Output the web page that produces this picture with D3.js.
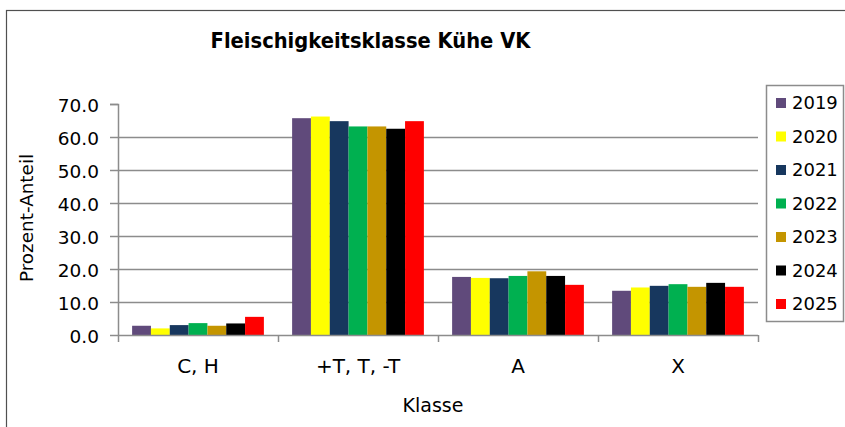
<!DOCTYPE html>
<html>
<head>
<meta charset="utf-8">
<script src="https://cdn.jsdelivr.net/npm/d3@7"></script>
<style>
  body { margin: 0; background: #fff; }
  text { font-family: "DejaVu Sans", sans-serif; fill: #000; }
</style>
</head>
<body>
<div id="chart"></div>
<script>
// categories, years and values
var categories = ["C, H", "+T, T, -T", "A", "X"];
var years = ["2019", "2020", "2021", "2022", "2023", "2024", "2025"];
var colors = ["#604a7b", "#ffff00", "#17375e", "#00b050", "#c49500", "#000000", "#ff0000"];
var v2019 = [2.8, 65.7, 17.6, 13.4];
var v2020 = [2.0, 66.2, 17.3, 14.4];
var v2021 = [3.0, 64.8, 17.2, 14.9];
var v2022 = [3.6, 63.2, 17.9, 15.4];
var v2023 = [2.8, 63.2, 19.3, 14.6];
var v2024 = [3.5, 62.5, 17.9, 15.8];
var v2025 = [5.5, 64.8, 15.2, 14.6];
var yTicks = [0, 10, 20, 30, 40, 50, 60, 70];

var series = [v2019, v2020, v2021, v2022, v2023, v2024, v2025];

var W = 845, H = 427;
var margin = {top: 104, left: 118, right: 87, bottom: 92};
var width = W - margin.left - margin.right,   // 640
    height = H - margin.top - margin.bottom;  // 231

var svg = d3.select("#chart").append("svg")
    .attr("width", W).attr("height", H);

// outer frame
svg.append("rect")
    .attr("x", 6.5).attr("y", 10.5)
    .attr("width", W + 10).attr("height", H + 10)
    .attr("fill", "none").attr("stroke", "#505050").attr("stroke-width", 1.2);

var g = svg.append("g").attr("transform", "translate(" + margin.left + "," + margin.top + ")");

var xScale = d3.scaleBand().domain(categories).range([0, width]);
// 7 bars + 150% gap
var xInner = d3.scaleBand().domain(years)
    .range([0, xScale.bandwidth()])
    .paddingInner(0).paddingOuter(0.75);
var yScale = d3.scaleLinear().domain([0, 70]).range([height, 0]);

// gridlines (no line at the top)
g.append("g").selectAll("line")
    .data(yTicks.filter(function(d){ return d > 0 && d < 70; }))
    .enter().append("line")
    .attr("x1", 0).attr("x2", width)
    .attr("y1", function(d){ return Math.round(yScale(d)) + 0.5; })
    .attr("y2", function(d){ return Math.round(yScale(d)) + 0.5; })
    .attr("stroke", "#8c8c8c").attr("stroke-width", 1.5);

// bars
var groups = g.selectAll(".grp")
    .data(categories)
    .enter().append("g")
    .attr("transform", function(d){ return "translate(" + xScale(d) + ",0)"; });

groups.selectAll("rect")
    .data(function(d, ci){ return years.map(function(y, yi){ return {year: y, yi: yi, value: series[yi][ci]}; }); })
    .enter().append("rect")
    .attr("x", function(d){ return xInner(d.year); })
    .attr("width", xInner.bandwidth())
    .attr("y", function(d){ return yScale(d.value); })
    .attr("height", function(d){ return height - yScale(d.value); })
    .attr("fill", function(d){ return colors[d.yi]; });

// y axis
var yAxis = d3.axisLeft(yScale).tickValues(yTicks).tickFormat(d3.format(".1f")).tickSize(8).tickPadding(11);
var ya = g.append("g").attr("class", "y axis").call(yAxis);
ya.select(".domain").attr("stroke", "#8c8c8c").attr("stroke-width", 1.5).attr("d", "M-8,0.5H0.5V" + height);
ya.selectAll(".tick line").attr("stroke", "#8c8c8c").attr("stroke-width", 1.5);
ya.selectAll("text").style("font-size", "18.5px").attr("dy", "0.42em");

// x axis
var xAxis = d3.axisBottom(xScale).tickSize(0).tickPadding(0);
var xa = g.append("g").attr("class", "x axis")
    .attr("transform", "translate(0," + height + ")").call(xAxis);
xa.select(".domain").attr("stroke", "#8c8c8c").attr("stroke-width", 1.5).attr("d", "M0,0.5H" + width);
xa.selectAll("text").style("font-size", "20px").attr("y", 38).attr("dy", null);
// category boundary ticks
xa.selectAll(".sep")
    .data(d3.range(categories.length + 1))
    .enter().append("line")
    .attr("x1", function(i){ return i * xScale.step() + 0.5; })
    .attr("x2", function(i){ return i * xScale.step() + 0.5; })
    .attr("y1", 0).attr("y2", 7)
    .attr("stroke", "#8c8c8c").attr("stroke-width", 1.5);

// titles
svg.append("text")
    .attr("x", 370.5).attr("y", 47.5)
    .attr("text-anchor", "middle")
    .style("font-family", "'DejaVu Sans Condensed', 'DejaVu Sans', sans-serif")
    .style("font-stretch", "condensed")
    .style("font-size", "21.7px").style("font-weight", "bold")
    .text("Fleischigkeitsklasse Kühe VK");

svg.append("text")
    .attr("x", 433).attr("y", 411.5)
    .attr("text-anchor", "middle")
    .style("font-size", "19px")
    .text("Klasse");

svg.append("text")
    .attr("transform", "translate(32.5,218) rotate(-90)")
    .attr("text-anchor", "middle")
    .style("font-size", "18.4px")
    .text("Prozent-Anteil");

// legend
var legend = svg.append("g").attr("transform", "translate(766,85)");
legend.append("rect")
    .attr("x", 0.5).attr("y", 0.5).attr("width", 77).attr("height", 236)
    .attr("fill", "#fff").attr("stroke", "#8c8c8c").attr("stroke-width", 1.5);
var items = legend.selectAll(".item")
    .data(years)
    .enter().append("g")
    .attr("transform", function(d, i){ return "translate(10," + (18 + i * 33.5) + ")"; });
items.append("rect")
    .attr("x", 0).attr("y", -5).attr("width", 10).attr("height", 10)
    .attr("fill", function(d, i){ return colors[i]; });
items.append("text")
    .attr("x", 16).attr("y", 0).attr("dy", "0.36em")
    .style("font-size", "18px")
    .text(function(d){ return d; });
</script>
</body>
</html>
